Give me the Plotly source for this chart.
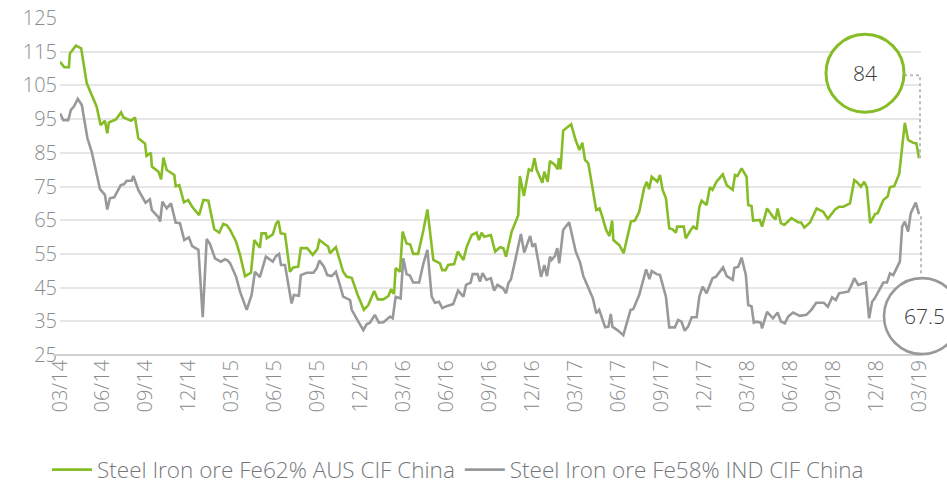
import plotly.graph_objects as go

# ---- data (weeks since first observation, price in USD/t) ----
weeks_fe62 = [0.0, 1.3, 2.7, 3.0, 4.8, 6.4, 8.1, 11.1, 12.3, 13.6, 14.3, 14.8, 16.9, 18.5, 19.2, 21.5, 22.7, 23.7,
              25.7, 26.2, 27.5, 27.8, 29.8, 30.6, 31.3, 32.3, 34.6, 35.0, 36.1, 37.5, 38.8, 40.0, 42.1, 43.4, 44.9,
              46.7, 48.2, 49.4, 50.5, 51.5, 53.3, 54.5, 56.0, 57.8, 58.8, 60.5, 61.0, 62.3, 62.6, 64.4, 65.4, 66.1,
              66.8, 68.1, 69.6, 70.6, 72.1, 72.9, 74.8, 76.5, 77.9, 78.5, 81.2, 81.7, 83.5, 85.7, 86.8, 88.3, 90.1,
              92.0, 93.3, 95.1, 96.2, 97.9, 99.4, 100.2, 101.1, 101.6, 102.9, 103.7, 104.9, 106.0, 106.9, 108.4,
              110.0, 111.2, 113.0, 115.0, 115.7, 116.7, 117.5, 119.3, 120.4, 122.1, 123.1, 124.6, 126.1, 126.8,
              127.6, 128.4, 130.4, 131.7, 133.2, 134.2, 135.0, 136.7, 138.7, 139.2, 140.4, 141.9, 142.8, 143.6,
              144.3, 146.0, 146.6, 147.6, 148.3, 149.8, 150.6, 151.0, 151.5, 152.3, 154.7, 156.0, 157.2, 158.1,
              158.9, 159.9, 162.3, 163.3, 164.0, 165.3, 166.3, 167.1, 167.5, 169.3, 170.6, 172.8, 174.0, 175.3,
              176.8, 177.6, 178.3, 179.1, 180.8, 181.6, 182.4, 183.4, 184.4, 185.4, 186.4, 186.8, 188.8, 189.4,
              190.9, 191.7, 192.7, 193.5, 194.2, 195.7, 196.7, 197.5, 198.7, 200.6, 201.8, 203.6, 204.3, 205.0,
              206.3, 207.8, 208.3, 209.3, 209.8, 210.8, 211.8, 212.5, 214.0, 215.8, 216.6, 217.2, 218.2, 219.2,
              221.4, 223.4, 224.3, 225.3, 227.0, 229.0, 231.0, 232.4, 234.6, 235.8, 237.1, 239.1, 240.4, 241.4,
              242.4, 243.4, 244.2, 245.2, 246.7, 247.5, 249.2, 250.5, 251.2, 252.5, 254.0, 255.7, 256.7, 258.2,
              259.2, 260.0]
fe62 = [112.0, 110.4, 110.4, 114.5, 116.8, 116.0, 105.6, 98.7, 93.2, 94.5, 90.8, 94.0, 94.9, 97.0, 95.5, 94.5, 95.5,
        89.3, 87.8, 84.1, 85.0, 80.9, 79.4, 77.1, 83.6, 79.9, 78.4, 75.1, 75.4, 70.3, 71.0, 69.0, 66.5, 71.0, 70.8,
        62.3, 61.3, 63.9, 63.5, 62.1, 58.6, 54.7, 48.4, 49.4, 59.1, 56.8, 61.1, 61.1, 59.6, 60.8, 64.0, 64.8, 61.1,
        60.9, 49.7, 51.0, 51.2, 56.7, 56.7, 54.7, 56.4, 59.1, 57.1, 55.2, 57.0, 49.7, 48.2, 47.9, 42.8, 38.4, 39.8,
        44.0, 41.5, 41.5, 42.5, 44.5, 43.1, 50.8, 49.7, 61.6, 58.1, 57.8, 55.0, 55.0, 62.1, 68.2, 53.2, 52.2, 50.2,
        50.2, 51.7, 52.0, 55.7, 53.2, 57.1, 60.6, 61.3, 59.1, 61.3, 60.1, 60.6, 55.7, 57.0, 56.7, 54.2, 61.6, 66.5,
        78.1, 72.2, 80.1, 79.7, 83.4, 79.9, 76.1, 79.4, 76.4, 82.6, 81.4, 80.1, 83.4, 80.1, 91.6, 93.5, 89.0, 85.8,
        88.0, 82.9, 81.9, 68.0, 68.5, 66.5, 62.1, 60.3, 64.9, 59.1, 57.6, 55.2, 64.6, 64.9, 67.5, 74.5, 76.4, 74.2,
        77.9, 76.4, 78.4, 74.0, 71.5, 62.6, 62.3, 61.3, 63.1, 63.1, 59.6, 62.1, 63.1, 62.3, 68.8, 70.8, 69.5, 74.8,
        74.0, 76.4, 78.6, 75.4, 74.0, 78.4, 78.1, 80.4, 77.9, 69.5, 69.2, 64.9, 65.1, 65.1, 63.1, 68.5, 66.0, 65.3,
        68.5, 64.1, 63.6, 65.6, 64.4, 64.3, 62.8, 64.3, 68.5, 67.5, 65.4, 68.2, 69.0, 69.0, 70.0, 76.9, 76.1, 74.9,
        76.4, 74.8, 64.1, 66.8, 67.1, 71.0, 72.0, 74.8, 75.1, 78.7, 93.9, 88.8, 88.0, 87.8, 83.4]

weeks_fe58 = [0.0, 1.0, 2.5, 3.3, 4.2, 5.4, 6.6, 8.3, 9.6, 12.1, 13.6, 14.3, 15.1, 16.4, 18.4, 19.4, 20.2, 21.7, 22.2,
              23.7, 25.9, 27.2, 27.8, 29.8, 30.3, 31.0, 32.3, 33.6, 35.0, 36.3, 37.6, 39.0, 40.0, 41.9, 43.2, 44.4,
              45.4, 46.9, 48.7, 49.9, 50.8, 51.5, 53.3, 54.5, 56.5, 58.0, 59.0, 60.5, 62.3, 64.4, 65.4, 66.3, 66.9,
              68.1, 70.1, 70.8, 72.3, 72.9, 74.7, 76.7, 77.7, 78.5, 79.9, 80.9, 82.2, 83.5, 84.7, 85.7, 87.8, 88.3,
              90.3, 91.8, 92.8, 93.8, 95.3, 96.5, 97.9, 99.9, 100.7, 101.6, 103.1, 103.9, 104.9, 105.9, 106.9, 108.7,
              110.0, 111.2, 112.5, 113.5, 114.7, 115.7, 117.0, 119.0, 120.5, 122.1, 122.9, 124.3, 124.9, 126.4,
              127.1, 127.9, 129.1, 130.4, 131.4, 132.4, 134.1, 135.0, 135.7, 136.5, 137.7, 139.5, 140.5, 142.3,
              143.0, 143.8, 145.6, 146.6, 147.4, 148.3, 148.8, 149.8, 150.5, 151.1, 152.3, 154.1, 156.1, 157.4,
              158.4, 160.0, 161.3, 162.3, 163.2, 165.0, 166.0, 166.7, 167.2, 168.7, 170.5, 172.7, 173.5, 175.3,
              177.4, 178.4, 179.1, 180.6, 181.6, 183.4, 184.4, 186.1, 187.1, 188.1, 189.1, 190.1, 191.2, 192.7,
              193.5, 194.5, 195.7, 197.5, 198.5, 200.7, 201.8, 203.6, 204.1, 205.3, 206.3, 207.6, 208.3, 209.3,
              210.0, 210.8, 212.1, 212.5, 214.0, 215.8, 217.2, 218.2, 219.4, 220.4, 221.9, 223.9, 225.9, 227.4,
              228.9, 231.2, 232.4, 233.7, 234.8, 235.8, 236.8, 238.6, 239.6, 240.4, 241.6, 242.6, 243.9, 244.9,
              245.8, 246.6, 247.9, 249.2, 250.3, 251.2, 252.2, 253.0, 254.2, 254.9, 255.7, 256.7, 257.5, 259.0,
              260.0]
fe58 = [96.7, 94.7, 94.7, 97.7, 98.7, 101.0, 99.2, 89.3, 85.3, 74.2, 72.5, 68.2, 71.5, 71.8, 75.4, 75.7, 76.7, 76.7,
        78.1, 74.0, 70.2, 71.2, 68.0, 65.9, 64.6, 70.5, 68.5, 70.0, 64.3, 64.1, 59.1, 59.9, 57.3, 56.2, 36.2, 59.4,
        57.9, 53.7, 52.7, 53.4, 53.0, 52.2, 48.2, 43.8, 38.4, 42.8, 49.7, 48.1, 54.2, 52.7, 54.4, 55.0, 51.7, 51.7,
        40.3, 42.8, 42.6, 48.7, 49.4, 49.4, 50.7, 53.0, 51.2, 48.7, 48.4, 49.7, 45.8, 42.3, 41.3, 38.4, 34.9, 32.4,
        34.1, 34.6, 36.9, 34.6, 34.7, 36.4, 35.9, 42.3, 41.8, 53.7, 49.0, 48.6, 46.5, 46.5, 52.2, 56.2, 42.3, 40.5,
        40.8, 38.9, 39.5, 40.1, 44.1, 42.3, 45.8, 46.5, 49.0, 49.0, 46.8, 49.3, 47.3, 47.8, 44.1, 45.8, 44.8, 43.3,
        46.3, 47.5, 52.7, 60.9, 55.4, 60.3, 57.1, 58.1, 48.2, 51.7, 48.4, 54.2, 53.2, 54.4, 56.7, 52.2, 62.1, 64.4,
        55.7, 52.5, 48.4, 44.8, 41.8, 37.4, 38.4, 33.2, 33.4, 37.2, 33.4, 32.4, 30.9, 38.4, 38.6, 42.8, 50.4, 47.5,
        49.9, 49.0, 48.7, 42.3, 33.2, 33.2, 35.4, 34.9, 32.2, 33.4, 36.2, 36.2, 42.3, 45.3, 43.3, 47.8, 48.2, 51.0,
        48.4, 47.3, 50.8, 51.2, 53.9, 48.7, 39.8, 39.5, 34.6, 34.9, 34.6, 32.9, 37.8, 35.9, 37.6, 34.9, 34.4, 36.4,
        37.6, 36.6, 36.9, 38.4, 40.5, 40.5, 39.3, 42.1, 41.3, 43.3, 43.5, 43.8, 45.8, 47.8, 45.8, 46.1, 46.5, 35.9,
        40.8, 41.8, 44.3, 46.5, 46.5, 49.2, 48.7, 50.2, 52.7, 63.1, 64.6, 61.6, 67.1, 70.2, 66.8]

tick_labels = ["03/14", "06/14", "09/14", "12/14", "03/15", "06/15", "09/15", "12/15", "03/16", "06/16",
               "09/16", "12/16", "03/17", "06/17", "09/17", "12/17", "03/18", "06/18", "09/18", "12/18", "03/19"]
tick_weeks = [13 * i for i in range(len(tick_labels))]

name_fe62 = "Steel Iron ore Fe62% AUS CIF China"
name_fe58 = "Steel Iron ore Fe58% IND CIF China"
label_fe62 = "84"
label_fe58 = "67.5"

# ---- styling ----
GREEN = "#86BC25"
GREY = "#97999B"
DOT = "#BBBCBC"
FONT = "Open Sans"
X_MAX = 260.6
Y_MIN, Y_MAX = 25, 125

fig = go.Figure()
fig.add_trace(go.Scatter(x=weeks_fe62, y=fe62, mode="lines", name=name_fe62,
                         line=dict(color=GREEN, width=2.6)))
fig.add_trace(go.Scatter(x=weeks_fe58, y=fe58, mode="lines", name=name_fe58,
                         line=dict(color=GREY, width=2.6)))


def px_(w):
    return w / X_MAX


def py_(v):
    return (v - Y_MIN) / (Y_MAX - Y_MIN)


gx, gy = px_(weeks_fe62[-1]), py_(fe62[-1])
hx, hy = px_(weeks_fe58[-1]), py_(fe58[-1])

common = dict(xref="paper", yref="paper", xsizemode="pixel", ysizemode="pixel", layer="above")
shapes = [
    # bottom axis line (slightly extended to the left)
    dict(type="line", xref="paper", yref="paper", x0=-0.008, x1=1, y0=0, y1=0,
         line=dict(color="#D0D0D0", width=2), layer="above"),
    # green callout: dotted leader + circle
    dict(type="line", xanchor=gx, yanchor=gy, x0=1, x1=1, y0=0, y1=83,
         line=dict(color=DOT, width=2, dash="dot"), **common),
    dict(type="line", xanchor=gx, yanchor=gy, x0=-15, x1=1, y0=83, y1=83,
         line=dict(color=DOT, width=2, dash="dot"), **common),
    dict(type="circle", xanchor=gx, yanchor=gy, x0=-93, x1=-15, y0=46, y1=124,
         line=dict(color=GREEN, width=3), fillcolor="white", **common),
    # grey callout
    dict(type="line", xanchor=hx, yanchor=hy, x0=2, x1=2, y0=-2, y1=-62,
         line=dict(color=DOT, width=2, dash="dot"), **common),
    dict(type="circle", xanchor=hx, yanchor=hy, x0=-35, x1=41, y0=-140, y1=-64,
         line=dict(color=GREY, width=2.6), fillcolor="white", **common),
]

annotations = [
    dict(xref="paper", yref="paper", x=gx, y=gy, xshift=-54, yshift=85, text=label_fe62,
         xanchor="center", yanchor="middle", showarrow=False,
         font=dict(family=FONT, size=21, color="#3A3A3A", weight=300)),
    dict(xref="paper", yref="paper", x=hx, y=hy, xshift=5, yshift=-102, text=label_fe58,
         xanchor="center", yanchor="middle", showarrow=False,
         font=dict(family=FONT, size=21, color="#3A3A3A", weight=300)),
]

fig.update_layout(
    width=947, height=486,
    margin=dict(l=60, r=26, t=18, b=131, autoexpand=False),
    paper_bgcolor="white", plot_bgcolor="white",
    font=dict(family=FONT, color="#8A8C8E", weight=300),
    showlegend=True,
    legend=dict(orientation="h", xref="container", yref="container", x=0.4836, xanchor="center",
                y=0.033, yanchor="middle",
                font=dict(family=FONT, size=22.5, color="#75787B", weight=300),
                itemwidth=40, traceorder="normal"),
    shapes=shapes,
    annotations=annotations,
)
fig.update_xaxes(range=[0, X_MAX], tickmode="array", tickvals=tick_weeks, ticktext=tick_labels,
                 tickangle=-90, showgrid=False, zeroline=False, showline=False, automargin=False,
                 ticklabeloverflow="allow",
                 tickfont=dict(family=FONT, size=20, color="#8A8C8E", weight=300))
fig.update_yaxes(range=[Y_MIN, Y_MAX], tickmode="array", tickvals=list(range(25, 126, 10)),
                 showgrid=True, gridcolor="#E6E6E6", gridwidth=1.5, zeroline=False, showline=False,
                 ticklabelstandoff=2, automargin=False, ticklabeloverflow="allow",
                 tickfont=dict(family=FONT, size=20, color="#8A8C8E", weight=300))

fig.write_html("out.html", config={"displayModeBar": False},
               post_script="document.body.style.margin='0';")
